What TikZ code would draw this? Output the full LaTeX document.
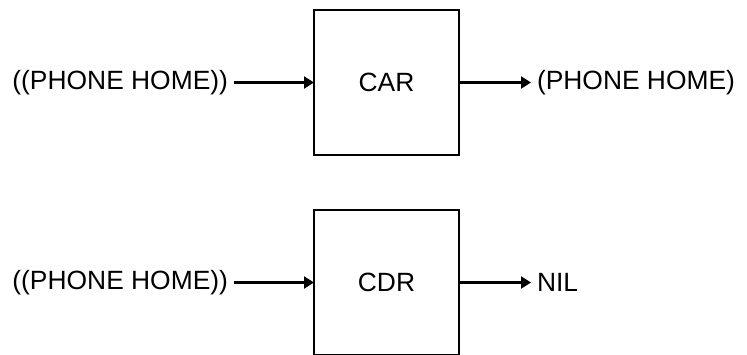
\documentclass[tikz,border=0pt]{standalone}
\usepackage{fontspec}
\setmainfont{Liberation Sans}
\usetikzlibrary{arrows.meta,positioning}
\tikzset{
fnbox/.style={draw,line width=2bp,minimum width=145bp,minimum height=145bp,inner sep=0pt,outer sep=0pt,font=\fontsize{26.5}{30}\selectfont},
datum/.style={inner sep=0pt,outer xsep=6bp,font=\fontsize{26.5}{30}\selectfont},
flow/.style={-{Triangle[length=10bp,width=12bp]},line width=2.2bp}
}
\begin{document}
\begin{tikzpicture}[x=1bp,y=-1bp]
\useasboundingbox (0,0) rectangle (747,354);
% car row
\node[fnbox](car) at (386.5,82.5){CAR};
\node[datum,left=80bp of car](carin){((PHONE HOME))};
\node[datum,right=72bp of car](carout){(PHONE HOME)};
\draw[flow](carin)--(car);\draw[flow](car)--(carout);
% cdr row
\node[fnbox](cdr) at (386.5,282.5){CDR};
\node[datum,left=80bp of cdr](cdrin){((PHONE HOME))};
\node[datum,right=72bp of cdr](cdrout){NIL};
\draw[flow](cdrin)--(cdr);\draw[flow](cdr)--(cdrout);
\end{tikzpicture}
\end{document}
